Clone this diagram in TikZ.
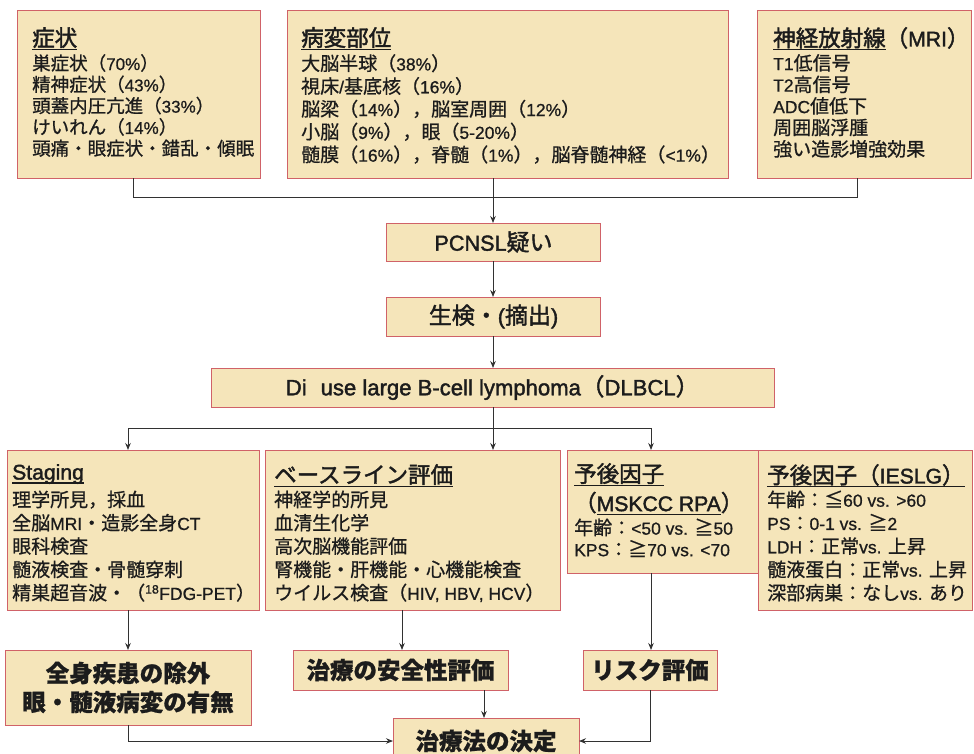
\documentclass[tikz,border=0pt]{standalone}
\usepackage{fontspec}
\setmainfont{Noto Sans CJK JP}[FakeBold=0.8]
\newfontfamily\medfont{Noto Sans CJK JP}[FakeBold=1.8]
\newfontfamily\latf{Liberation Sans}[Scale=0.92,FakeBold=0.8]
\newfontfamily\latfm{Liberation Sans}[Scale=0.94,FakeBold=1.8]
\newcommand{\latn}[1]{{\latf #1}}
\newcommand{\lath}[1]{{\latfm #1}}
\usetikzlibrary{arrows.meta}
\definecolor{boxfill}{RGB}{245,229,186}
\definecolor{boxline}{RGB}{208,98,104}
\definecolor{lnk}{RGB}{50,50,50}
\definecolor{ink}{RGB}{28,28,28}
\newcommand{\hul}[1]{\setbox0\hbox{#1}\rlap{\rule[-4pt]{\wd0}{1.2pt}}\box0}
\begin{document}
\begin{tikzpicture}[x=1pt,y=-1pt,
  box/.style={draw=boxline,fill=boxfill,line width=0.9pt,inner sep=0pt,outer sep=0pt,rectangle,text=ink},
  nwbox/.style={box,anchor=north west},
  conn/.style={draw=lnk,line width=1pt},
  arr/.style={conn,-{Stealth[length=7pt,width=5.5pt]}},
  head/.style={anchor=north west,inner sep=0pt,text=ink,font=\medfont\fontsize{22.5pt}{29pt}\selectfont,align=left},
  bodytop/.style={anchor=north west,inner sep=0pt,text=ink,align=left,font=\fontsize{19pt}{21.5pt}\selectfont},
  bodysym/.style={bodytop,font=\fontsize{18.5pt}{21.3pt}\selectfont},
  bodyloc/.style={bodytop,font=\fontsize{19pt}{22.8pt}\selectfont},
  bodymid/.style={bodytop,font=\fontsize{19pt}{23.3pt}\selectfont},
  flowtxt/.style={font=\medfont\fontsize{23pt}{26pt}\selectfont},
  endtxt/.style={font=\bfseries\fontsize{23.5pt}{29pt}\selectfont,align=center}
]
\useasboundingbox (0,0) rectangle (974,753);
\fill[white] (0,0) rectangle (974,753);

% ---- top row
\node[nwbox,minimum width=243pt,minimum height=168pt] (sym) at (17,10) {};
\node[nwbox,minimum width=441pt,minimum height=168pt] (loc) at (287,10) {};
\node[nwbox,minimum width=214pt,minimum height=168pt] (mri) at (757,10) {};

\node[head] (symh) at (32,27) {\hul{症状}};
\node[bodysym] (symb) at (32,54) {巣症状（\latn{70\%}）\\精神症状（\latn{43\%}）\\頭蓋内圧亢進（\latn{33\%}）\\けいれん（\latn{14\%}）\\頭痛・眼症状・錯乱・傾眠};

\node[head] (loch) at (301,27) {\hul{病変部位}};
\node[bodyloc] (locb) at (301,54) {大脳半球（\latn{38\%}）\\視床\latn{/}基底核（\latn{16\%}）\\脳梁（\latn{14\%}），脳室周囲（\latn{12\%}）\\小脳（\latn{9\%}），眼（\latn{5-20\%}）\\髄膜（\latn{16\%}），脊髄（\latn{1\%}），脳脊髄神経（\latn{<1\%}）};

\node[head] (mrih) at (773,27) {\hul{神経放射線}（\lath{MRI}）};
\node[bodytop] (mrib) at (773,54) {\latn{T1}低信号\\\latn{T2}高信号\\\latn{ADC}値低下\\周囲脳浮腫\\強い造影増強効果};

% ---- flow
\node[box,minimum width=214pt,minimum height=38pt,flowtxt] (pcnsl) at (493.5,242) {\lath{PCNSL}疑い};
\node[box,minimum width=214pt,minimum height=39pt,flowtxt] (biop) at (493.5,316.5) {生検・\lath{(}摘出\lath{)}};
\node[box,minimum width=563pt,minimum height=39pt,flowtxt,font=\medfont\fontsize{23.5pt}{26pt}\selectfont] (dlbcl) at (492.5,387.5) {\lath{Di\hspace{14pt}use large B-cell lymphoma}（\lath{DLBCL}）};

% ---- third row
\node[nwbox,minimum width=252pt,minimum height=160pt] (stag) at (7,450) {};
\node[nwbox,minimum width=295pt,minimum height=160pt] (base) at (265,450) {};
\node[nwbox,minimum width=191pt,minimum height=123pt] (msk) at (567,450) {};
\node[nwbox,minimum width=214pt,minimum height=160pt] (ies) at (758,450) {};

\node[head] (stagh) at (12,464) {\hul{\lath{Staging}}};
\node[bodymid] (stagb) at (12,490.4) {理学所見，採血\\全脳\latn{MRI}・造影全身\latn{CT}\\眼科検査\\髄液検査・骨髄穿刺\\精巣超音波・（\latn{\textsuperscript{18}FDG-PET}）};

\node[head] (baseh) at (274,464) {\hul{ベースライン評価}};
\node[bodymid] (baseb) at (274,490.4) {神経学的所見\\血清生化学\\高次脳機能評価\\腎機能・肝機能・心機能検査\\ウイルス検査（\latn{HIV, HBV, HCV}）};

\node[head] (mskh) at (574,463) {\hul{予後因子}\\（\hul{\lath{MSKCC RPA}}）};
\node[bodytop] (mskb) at (574,518.4) {年齢：\latn{<50 vs. }≧\latn{50}\\\latn{KPS}：≧\latn{70 vs. <70}};

\node[head] (iesh) at (767,464) {\hul{予後因子（\lath{IESLG}）}};
\node[bodymid] (iesb) at (767,490.4) {年齢：≦\latn{60 vs. >60}\\\latn{PS}：\latn{0-1 vs. }≧\latn{2}\\\latn{LDH}：正常\latn{vs. }上昇\\髄液蛋白：正常\latn{vs. }上昇\\深部病巣：なし\latn{vs. }あり};

% ---- bottom row
\node[box,minimum width=246pt,minimum height=75pt,endtxt] (excl) at (128,687.5) {全身疾患の除外\\眼・髄液病変の有無};
\node[box,minimum width=215pt,minimum height=40pt,endtxt] (safe) at (400.5,670) {治療の安全性評価};
\node[box,minimum width=134pt,minimum height=40pt,endtxt] (risk) at (650,670) {リスク評価};
\node[box,minimum width=186pt,minimum height=46pt,endtxt] (dec) at (486,741) {治療法の決定};

% ---- junction coordinates
\coordinate (jA) at (133,197);
\coordinate (jB) at (493,197);
\coordinate (jC) at (857,197);
\coordinate (kA) at (128,428);
\coordinate (kB) at (493,428);
\coordinate (kC) at (651,428);
\coordinate (sA) at (402,0);
\coordinate (sB) at (484,0);

% ---- connectors
\draw[conn] (sym.south -| jA) -- (jA) -- (jC) -- (mri.south -| jC);
\draw[conn] (loc.south -| jB) -- (jB);
\draw[arr] (jB) -- (pcnsl.north -| jB);
\draw[arr] (pcnsl.south -| jB) -- (biop.north -| jB);
\draw[arr] (biop.south -| jB) -- (dlbcl.north -| jB);
\draw[conn] (dlbcl.south -| kB) -- (kB);
\draw[conn] (kA) -- (kC);
\draw[arr] (kA) -- (stag.north -| kA);
\draw[arr] (kB) -- (base.north -| kB);
\draw[arr] (kC) -- (msk.north -| kC);
\draw[arr] (stag.south -| kA) -- (excl.north -| kA);
\draw[arr] (base.south -| sA) -- (safe.north -| sA);
\draw[arr] (msk.south -| kC) -- (risk.north -| kC);
\draw[arr] (safe.south -| sB) -- (dec.north -| sB);
\draw[arr] (excl.south) |- (dec.west);
\draw[arr] (risk.south) |- (dec.east);
\end{tikzpicture}
\end{document}
